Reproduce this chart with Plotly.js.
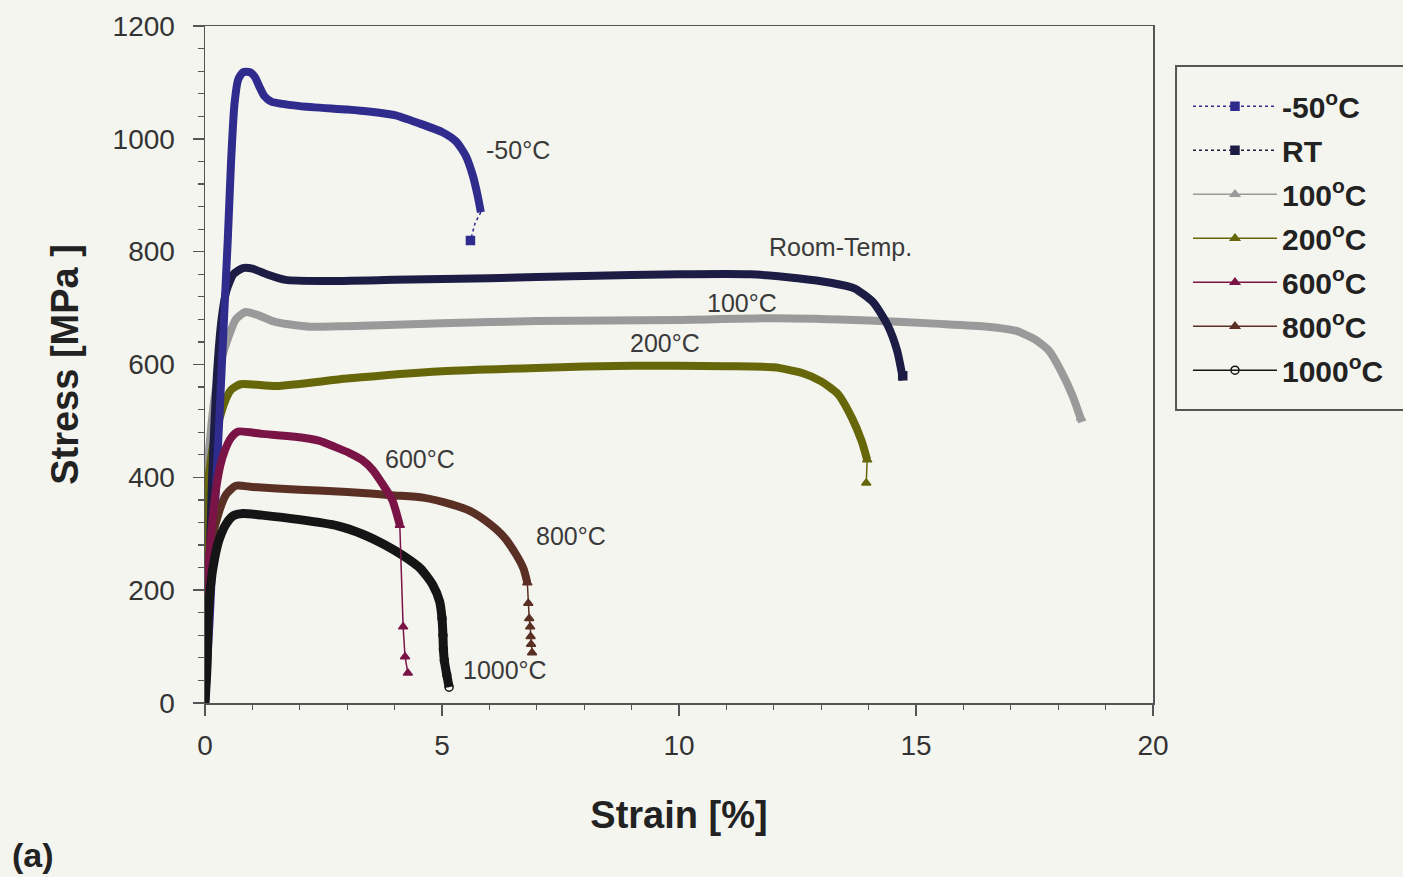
<!DOCTYPE html>
<html>
<head>
<meta charset="utf-8">
<script src="https://cdn.plot.ly/plotly-3.0.1.min.js"></script>
<style>html,body{margin:0;padding:0;background:#f5f5ef;}#chart{width:1403px;height:877px;}</style>
</head>
<body>
<div id="chart"></div>
<script>
// ---- data (strain %, stress MPa) ----
const seriesNames = ["-50<sup>o</sup>C", "RT", "100<sup>o</sup>C", "200<sup>o</sup>C", "600<sup>o</sup>C", "800<sup>o</sup>C", "1000<sup>o</sup>C"];

const m50_x = [0,0.1,0.2,0.3,0.4,0.48,0.55,0.62,0.7,0.8,0.95,1.05,1.15,1.25,1.4,2,3,3.5,4,4.5,5,5.3,5.5,5.65,5.75,5.82];
const m50_y = [0,150,330,500,680,820,960,1060,1105,1118,1118,1110,1092,1076,1066,1058,1052,1048,1042,1028,1012,995,970,935,900,870];
const m50_gap_x = [5.82,5.7,5.6];
const m50_gap_y = [870,851,820];
const m50_tail_x = [5.6];
const m50_tail_y = [820];

const rt_x = [0,0.08,0.15,0.25,0.35,0.45,0.6,0.8,1.0,1.3,1.7,2.5,4,6,8,10,11.5,12.5,13.2,13.7,14.1,14.4,14.6,14.73];
const rt_y = [0,200,400,580,680,730,760,771,770,760,750,748,750,753,757,760,760,753,745,735,710,670,625,572];
const rt_tail_x = [14.72];
const rt_tail_y = [580];

const t100_x = [0,0.03,0.07,0.2,0.35,0.5,0.65,0.85,1.1,1.5,2.2,3,5,7,10,12,14,15.5,16.5,17.1,17.5,17.8,18.05,18.3,18.5];
const t100_y = [0,250,430,540,610,650,680,693,688,675,667,668,673,677,679,682,678,672,667,660,645,625,590,545,498];
const t100_tail_x = [18.48];
const t100_tail_y = [505];

const t200_x = [0,0.03,0.07,0.2,0.4,0.55,0.75,1.5,3,5,7,9,11,12,12.6,13,13.35,13.65,13.85,13.97];
const t200_y = [0,250,395,470,530,555,565,562,575,588,594,598,597,595,585,570,548,505,465,431];
const t200_tail_x = [13.97,13.95];
const t200_tail_y = [431,390];

const t600_x = [0,0.03,0.06,0.12,0.21,0.32,0.42,0.55,0.7,1.2,1.9,2.4,2.74,3.05,3.31,3.55,3.73,3.95,4.11];
const t600_y = [0,150,230,290,365,420,448,470,481,477,472,465,454,443,431,412,390,360,315];
const t600_tail_x = [4.11,4.18,4.22,4.28];
const t600_tail_y = [315,135,82,53];

const t800_x = [0,0.05,0.15,0.3,0.45,0.65,1,2,3,4,4.6,5.2,5.6,6,6.3,6.55,6.72,6.8];
const t800_y = [0,200,290,340,370,385,383,378,374,368,364,352,340,318,295,265,238,213];
const t800_tail_x = [6.8,6.82,6.84,6.86,6.87,6.88,6.9];
const t800_tail_y = [213,177,150,135,118,104,89];

const t1000_x = [0,0.04,0.07,0.12,0.2,0.3,0.45,0.6,0.8,1.2,2,2.8,3.3,3.8,4.2,4.55,4.8,4.95,5.0,5.02,5.03,5.05,5.1,5.15];
const t1000_y = [0,60,150,210,255,290,318,332,336,333,325,314,300,280,260,238,210,180,150,120,95,75,50,28];
const t1000_tail_x = [5.0,5.02,5.03,5.05,5.1,5.15];
const t1000_tail_y = [150,120,95,75,50,28];

const labelText = ["-50°C", "Room-Temp.", "100°C", "200°C", "600°C", "800°C", "1000°C"];
const labelX = [6.6, 13.4, 11.33, 9.7, 4.54, 7.72, 6.33];
const labelY = [980, 808, 709, 638, 432, 296, 58];

const xTicks = [0, 5, 10, 15, 20];
const yTicks = [0, 200, 400, 600, 800, 1000, 1200];

// ---- styling ----
const FONT = "Liberation Sans, Arial, sans-serif";
const colors = ["#2f2c8e", "#1c1c45", "#9a9a9a", "#66660a", "#7a1447", "#5a3024", "#151515"];
const bodies = [[m50_x,m50_y],[rt_x,rt_y],[t100_x,t100_y],[t200_x,t200_y],[t600_x,t600_y],[t800_x,t800_y],[t1000_x,t1000_y]];
const tails = [[m50_tail_x,m50_tail_y],[rt_tail_x,rt_tail_y],[t100_tail_x,t100_tail_y],[t200_tail_x,t200_tail_y],[t600_tail_x,t600_tail_y],[t800_tail_x,t800_tail_y],[t1000_tail_x,t1000_tail_y]];
const symbols = ["square","square","triangle-up","triangle-up","triangle-up","triangle-up","circle-open"];
const dashes = ["dot","dot","solid","solid","solid","solid","solid"];
const bodyWidth = [8,8,8,8,8,8,9];

const traces = [];
const order = [2,3,1,0,5,4,6];
order.forEach(i => {
  traces.push({
    x: bodies[i][0], y: bodies[i][1], type: "scatter", mode: "lines",
    line: {color: colors[i], width: bodyWidth[i], shape: "spline", smoothing: 0.6},
    showlegend: false, legendgroup: "g" + i, hoverinfo: "skip"
  });
});
// dotted connector after -50 °C fracture
traces.push({
  x: m50_gap_x, y: m50_gap_y, type: "scatter", mode: "lines",
  line: {color: colors[0], width: 1.5, dash: "dot"}, showlegend: false, legendgroup: "g0", hoverinfo: "skip"
});
for (let i = 0; i < 7; i++) {
  traces.push({
    x: tails[i][0], y: tails[i][1], type: "scatter", mode: "lines+markers",
    name: seriesNames[i], legendgroup: "g" + i, legendrank: i + 1,
    line: {color: colors[i], width: 1.5, dash: dashes[i]},
    marker: {color: colors[i], symbol: symbols[i], size: 8, line: {color: colors[i], width: 1.5}},
    showlegend: true
  });
}

const annotations = labelText.map((t, i) => ({
  x: labelX[i], y: labelY[i], xref: "x", yref: "y", text: t, showarrow: false,
  font: {family: FONT, size: 25, color: "#3a3a3a"}
}));
annotations.push({
  x: -0.2057, y: -0.2245, xref: "paper", yref: "paper", xanchor: "left", yanchor: "middle",
  text: "<b>(a)</b>", showarrow: false,
  font: {family: FONT, size: 34, color: "#222"}
});

const layout = {
  width: 1403, height: 877,
  margin: {l: 205, r: 250, t: 26, b: 174},
  paper_bgcolor: "#f5f5ef", plot_bgcolor: "#f5f5ef",
  font: {family: FONT, color: "#333"},
  xaxis: {
    range: [0, 20], tickvals: xTicks, ticktext: xTicks.map(String),
    showgrid: false, zeroline: false, showline: true, mirror: true,
    linecolor: "#555", linewidth: 1.5, ticks: "outside", ticklen: 11, tickcolor: "#555", tickwidth: 1.5,
    minor: {dtick: 1, tick0: 0, ticks: "outside", ticklen: 5, tickcolor: "#555", tickwidth: 1.2, showgrid: false},
    tickfont: {size: 28, color: "#333"}, ticklabelstandoff: 6,
    title: {text: "<b>Strain [%]</b>", font: {size: 38, color: "#222"}, standoff: 41}
  },
  yaxis: {
    range: [0, 1200], tickvals: yTicks, ticktext: yTicks.map(String),
    showgrid: false, zeroline: false, showline: true, mirror: true,
    linecolor: "#555", linewidth: 1.5, ticks: "outside", ticklen: 11, tickcolor: "#555", tickwidth: 1.5,
    minor: {dtick: 40, tick0: 0, ticks: "outside", ticklen: 6, tickcolor: "#555", tickwidth: 1.2, showgrid: false},
    tickfont: {size: 28, color: "#333"}, ticklabelstandoff: 12,
    title: {text: "<b>Stress [MPa ]</b>", font: {size: 38, color: "#222"}, standoff: 22}
  },
  shapes: [{
    type: "rect", xref: "paper", yref: "paper",
    x0: 1.0243, x1: 1.275, y0: 0.4328, y1: 0.941,
    line: {color: "#555", width: 2}, fillcolor: "rgba(0,0,0,0)"
  }],
  legend: {
    x: 1.0369, y: 0.92, xanchor: "left", yanchor: "top",
    bgcolor: "rgba(0,0,0,0)", borderwidth: 0,
    font: {size: 30, color: "#222", family: FONT, weight: "bold"},
    traceorder: "grouped", tracegroupgap: 2, itemwidth: 84
  },
  annotations: annotations,
  showlegend: true
};

Plotly.newPlot("chart", traces, layout, {displayModeBar: false, staticPlot: true});
</script>
</body>
</html>
